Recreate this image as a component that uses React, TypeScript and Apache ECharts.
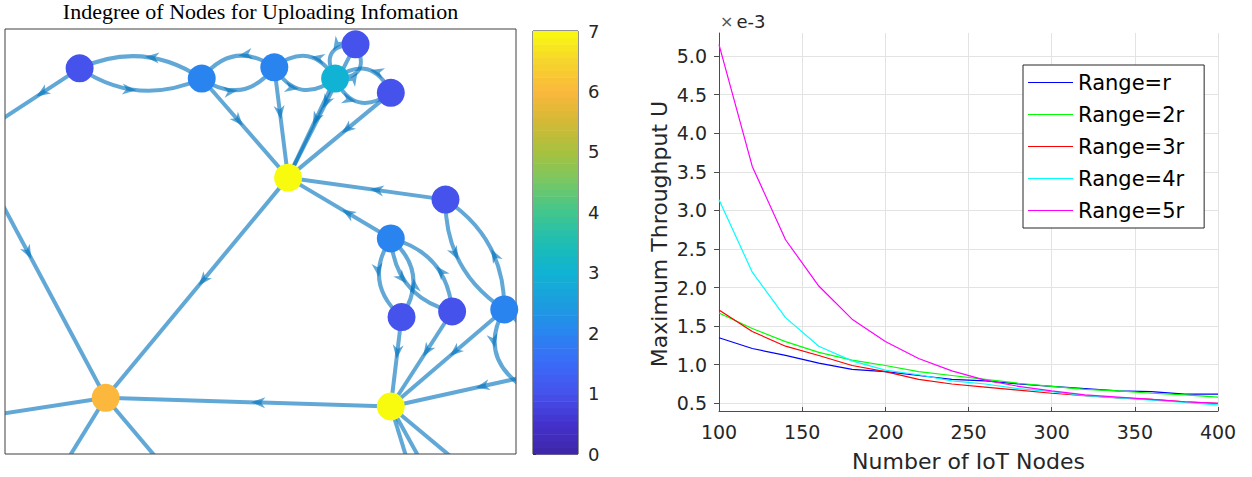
import React, { useEffect, useRef } from "react";
import * as echarts from "echarts";

// ---------------- Left panel: directed graph ----------------
const graphTitle = "Indegree of Nodes for Uploading Infomation";

// layout coordinates of the nodes (the first 14 lie inside the frame, the others outside it)
const nodeX = [1.46, 3.85, 5.27, 6.86, 6.46, 7.55, 5.54, 8.62, 7.55, 7.76, 8.75, 9.77, 1.97, 7.55, -0.33, -0.88, -2.64, 0.37, 3.99, 10.76, 8.29, 8.89, 10.21, 10.08];
const nodeY = [7.55, 7.35, 7.57, 8.02, 7.35, 7.07, 5.41, 4.98, 4.22, 2.68, 2.79, 2.83, 1.1, 0.93, 6.38, 6.44, 0.39, -1.49, -1.29, 1.64, -1.49, -1.49, -1.29, 1.35];
const shownNodeCount = 14;

// directed edges
const edgeSource = [0, 1, 1, 2, 2, 4, 4, 3, 4, 5, 0, 1, 2, 3, 4, 5, 7, 8, 6, 15, 16, 17, 18, 13, 7, 11, 8, 9, 8, 10, 11, 23, 9, 10, 11, 19, 20, 21, 22];
const edgeTarget = [1, 0, 2, 1, 4, 2, 3, 4, 5, 4, 14, 6, 6, 6, 6, 6, 6, 6, 12, 12, 12, 12, 12, 12, 11, 7, 9, 8, 10, 8, 23, 11, 13, 13, 13, 13, 13, 13, 13];

// colour bar
const colorbarMin = 0;
const colorbarMax = 7;
const colorbarLevels = 64;

// parula-like colormap stops (t, colour)
const parulaStops: [number, string][] = [
  [0.0, "#3e26a8"],
  [0.071, "#4431cc"],
  [0.143, "#4652ec"],
  [0.214, "#3a6af8"],
  [0.286, "#2a84f0"],
  [0.357, "#1c9ddf"],
  [0.429, "#10b3d3"],
  [0.5, "#1ebdb4"],
  [0.571, "#41c68e"],
  [0.643, "#76c766"],
  [0.714, "#a6c23e"],
  [0.786, "#d3b936"],
  [0.857, "#fbb83c"],
  [0.929, "#f6d52c"],
  [1.0, "#f9fb0e"],
];

// ---------------- Right panel: throughput curves ----------------
const nodeCounts = [100, 120, 140, 160, 180, 200, 220, 240, 260, 280, 300, 320, 340, 360, 380, 400];
const rangeR = [1.35, 1.21, 1.12, 1.02, 0.94, 0.91, 0.86, 0.81, 0.79, 0.75, 0.72, 0.69, 0.66, 0.65, 0.62, 0.62];
const range2R = [1.67, 1.47, 1.3, 1.16, 1.06, 0.99, 0.91, 0.86, 0.81, 0.76, 0.72, 0.68, 0.66, 0.63, 0.61, 0.58];
const range3R = [1.71, 1.43, 1.24, 1.12, 0.99, 0.91, 0.81, 0.75, 0.71, 0.67, 0.63, 0.6, 0.57, 0.55, 0.52, 0.5];
const range4R = [3.14, 2.2, 1.61, 1.24, 1.05, 0.93, 0.87, 0.79, 0.75, 0.69, 0.65, 0.6, 0.57, 0.54, 0.51, 0.48];
const range5R = [5.15, 3.57, 2.62, 2.02, 1.59, 1.3, 1.08, 0.92, 0.8, 0.72, 0.66, 0.61, 0.58, 0.55, 0.52, 0.5];
const seriesNames = ["Range=r", "Range=2r", "Range=3r", "Range=4r", "Range=5r"];
const seriesColors = ["#0000ff", "#00ff00", "#ff0000", "#00ffff", "#ff00ff"];
const yExponentLabel = "e-3";

function hexToRgb(h: string) {
  return [parseInt(h.slice(1, 3), 16), parseInt(h.slice(3, 5), 16), parseInt(h.slice(5, 7), 16)];
}

function parula(t: number) {
  const v = Math.max(0, Math.min(1, t));
  for (let i = 0; i < parulaStops.length - 1; i++) {
    const [t0, c0] = parulaStops[i];
    const [t1, c1] = parulaStops[i + 1];
    if (v >= t0 && v <= t1) {
      const f = (v - t0) / (t1 - t0);
      const a = hexToRgb(c0);
      const b = hexToRgb(c1);
      const c = a.map((x, k) => Math.round(x + (b[k] - x) * f));
      return `rgb(${c[0]},${c[1]},${c[2]})`;
    }
  }
  return parulaStops[parulaStops.length - 1][1];
}

const SANS = "DejaVu Sans";

export default function App() {
  const ref = useRef<HTMLDivElement>(null);

  useEffect(() => {
    if (!ref.current) return;
    const chart = echarts.init(ref.current, undefined, { renderer: "svg" });

    // indegree of each node, from the edge list
    const indegree = nodeX.map(() => 0);
    edgeTarget.forEach((t) => (indegree[t] += 1));

    const edgeKey = new Set(edgeSource.map((s, i) => `${s}-${edgeTarget[i]}`));
    const edgeData = edgeSource.map((s, i) => {
      const t = edgeTarget[i];
      const reciprocal = edgeKey.has(`${t}-${s}`) ? 1 : 0;
      return [nodeX[s], nodeY[s], nodeX[t], nodeY[t], reciprocal];
    });

    const nodeData = nodeX.slice(0, shownNodeCount).map((x, i) => [x, nodeY[i], indegree[i]]);

    const levelData = Array.from({ length: colorbarLevels }, (_, i) => [0, i]);

    const lineData = [rangeR, range2R, range3R, range4R, range5R];

    const edgeColor = "#0072bd";

    const option: any = {
      animation: false,
      backgroundColor: "#ffffff",
      textStyle: { fontFamily: SANS },
      graphic: [
        {
          type: "text",
          x: 260.5,
          y: 11,
          style: {
            text: graphTitle,
            fontFamily: "Liberation Serif",
            fontSize: 22,
            fill: "#000000",
            align: "center",
            verticalAlign: "middle",
          },
        },
        {
          type: "text",
          x: 720,
          y: 21,
          style: {
            text: "{a|×}{b|" + yExponentLabel + "}",
            rich: {
              a: { fontFamily: SANS, fontSize: 16, fill: "#555555", padding: [0, 3, 0, 0] },
              b: { fontFamily: SANS, fontSize: 18, fill: "#262626" },
            },
            verticalAlign: "middle",
            align: "left",
          },
        },
      ],
      grid: [
        { left: 5, top: 29, width: 511, height: 425, show: true, borderColor: "#404040", borderWidth: 1, backgroundColor: "#ffffff" },
        { left: 533, top: 31, width: 45, height: 423, show: true, borderColor: "#262626", borderWidth: 1 },
        { left: 719, top: 33, width: 499, height: 379 },
      ],
      legend: {
        data: seriesNames,
        orient: "vertical",
        left: 1023,
        top: 65,
        itemWidth: 45,
        itemHeight: 20,
        itemGap: 11,
        padding: [7, 20, 7, 5],
        icon: "path://M0,0 L45,0 L45,1.2 L0,1.2 Z",
        borderColor: "#262626",
        borderWidth: 1,
        backgroundColor: "#ffffff",
        textStyle: { fontFamily: SANS, fontSize: 21, color: "#000000" },
      },
      xAxis: [
        { gridIndex: 0, type: "value", min: 0, max: 10, show: false },
        { gridIndex: 1, type: "value", min: 0, max: 1, show: false },
        {
          gridIndex: 2,
          type: "value",
          min: 100,
          max: 400,
          interval: 50,
          name: "Number of IoT Nodes",
          nameLocation: "middle",
          nameGap: 39,
          nameTextStyle: { fontFamily: SANS, fontSize: 22, color: "#262626" },
          axisLine: { onZero: false, lineStyle: { color: "#4d4d4d", width: 1 } },
          axisTick: { inside: true, length: 4, lineStyle: { color: "#4d4d4d" } },
          axisLabel: { fontFamily: SANS, fontSize: 19, color: "#262626", margin: 11 },
          splitLine: { show: true, showMinLine: false, lineStyle: { color: "#e3e3e3", width: 1 } },
        },
      ],
      yAxis: [
        { gridIndex: 0, type: "value", min: 0, max: 8.32, show: false },
        {
          gridIndex: 1,
          type: "value",
          min: colorbarMin,
          max: colorbarMax,
          interval: 1,
          position: "right",
          axisLine: { show: false },
          axisTick: { show: true, length: 3, lineStyle: { color: "#262626" } },
          axisLabel: { fontFamily: SANS, fontSize: 18, color: "#262626", margin: 10 },
          splitLine: { show: false },
        },
        {
          gridIndex: 2,
          type: "value",
          min: 0.4,
          max: 5.3,
          splitNumber: 10,
          name: "Maximum Throughput U",
          nameLocation: "middle",
          nameGap: 49,
          nameTextStyle: { fontFamily: SANS, fontSize: 22, color: "#262626", padding: [0, 24, 0, 0] },
          axisLine: { show: true, onZero: false, lineStyle: { color: "#4d4d4d", width: 1 } },
          axisTick: { show: true, length: 5, lineStyle: { color: "#4d4d4d" } },
          axisLabel: {
            fontFamily: SANS,
            fontSize: 19,
            color: "#262626",
            margin: 12,
            showMinLabel: false,
            showMaxLabel: false,
            formatter: (v: number) => v.toFixed(1),
          },
          splitLine: { show: true, showMinLine: false, showMaxLine: false, lineStyle: { color: "#e3e3e3", width: 1 } },
        },
      ],
      series: [
        {
          type: "custom",
          xAxisIndex: 0,
          yAxisIndex: 0,
          clip: true,
          z: 2,
          silent: true,
          data: edgeData,
          encode: { x: [0, 2], y: [1, 3] },
          renderItem: (_params: any, api: any) => {
            const p0 = api.coord([api.value(0), api.value(1)]);
            const p1 = api.coord([api.value(2), api.value(3)]);
            const curved = api.value(4);
            const dx = p1[0] - p0[0];
            const dy = p1[1] - p0[1];
            const len = Math.hypot(dx, dy) || 1;
            const ux = dx / len;
            const uy = dy / len;
            const nx = -uy;
            const ny = ux;
            let mid: number[];
            let edgeEl: any;
            if (curved) {
              const peak = Math.min(17, 0.4 * len);
              const cx = (p0[0] + p1[0]) / 2 + nx * 2 * peak;
              const cy = (p0[1] + p1[1]) / 2 + ny * 2 * peak;
              mid = [0.25 * p0[0] + 0.5 * cx + 0.25 * p1[0], 0.25 * p0[1] + 0.5 * cy + 0.25 * p1[1]];
              edgeEl = {
                type: "bezierCurve",
                shape: { x1: p0[0], y1: p0[1], x2: p1[0], y2: p1[1], cpx1: cx, cpy1: cy },
                style: { stroke: edgeColor, lineWidth: 4, fill: null, opacity: 0.62 },
              };
            } else {
              mid = [(p0[0] + p1[0]) / 2, (p0[1] + p1[1]) / 2];
              edgeEl = {
                type: "line",
                shape: { x1: p0[0], y1: p0[1], x2: p1[0], y2: p1[1] },
                style: { stroke: edgeColor, lineWidth: 4, opacity: 0.62 },
              };
            }
            const tip = [mid[0] - ux * 3, mid[1] - uy * 3];
            const back = [tip[0] - ux * 14, tip[1] - uy * 14];
            const notch = [tip[0] - ux * 10, tip[1] - uy * 10];
            const arrowEl = {
              type: "polygon",
              shape: {
                points: [
                  tip,
                  [back[0] + nx * 5.5, back[1] + ny * 5.5],
                  notch,
                  [back[0] - nx * 5.5, back[1] - ny * 5.5],
                ],
              },
              style: { fill: edgeColor, opacity: 0.62 },
            };
            return { type: "group", children: [edgeEl, arrowEl] };
          },
        },
        {
          type: "scatter",
          xAxisIndex: 0,
          yAxisIndex: 0,
          z: 3,
          silent: true,
          symbol: "circle",
          symbolSize: 28,
          data: nodeData,
          itemStyle: {
            opacity: 1,
            color: (p: any) => parula((p.value[2] - colorbarMin) / (colorbarMax - colorbarMin)),
          },
        },
        {
          type: "custom",
          xAxisIndex: 1,
          yAxisIndex: 1,
          silent: true,
          data: levelData,
          encode: { x: 0, y: 1 },
          renderItem: (_params: any, api: any) => {
            const i = api.value(1);
            const step = (colorbarMax - colorbarMin) / colorbarLevels;
            const a = api.coord([0, colorbarMin + i * step]);
            const b = api.coord([1, colorbarMin + (i + 1) * step]);
            return {
              type: "rect",
              shape: { x: a[0], y: b[1], width: b[0] - a[0], height: a[1] - b[1] + 0.6 },
              style: { fill: parula((i + 0.5) / colorbarLevels) },
            };
          },
        },
        ...lineData.map((vals, k) => ({
          type: "line",
          name: seriesNames[k],
          xAxisIndex: 2,
          yAxisIndex: 2,
          symbol: "none",
          showSymbol: false,
          silent: true,
          color: seriesColors[k],
          lineStyle: { color: seriesColors[k], width: 1.2 },
          data: nodeCounts.map((x, i) => [x, vals[i]]),
        })),
      ],
    };

    chart.setOption(option);
    return () => chart.dispose();
  }, []);

  return (
    <div
      ref={ref}
      style={{ position: "fixed", left: 0, top: 0, width: 1252, height: 477, background: "#fff" }}
    />
  );
}
